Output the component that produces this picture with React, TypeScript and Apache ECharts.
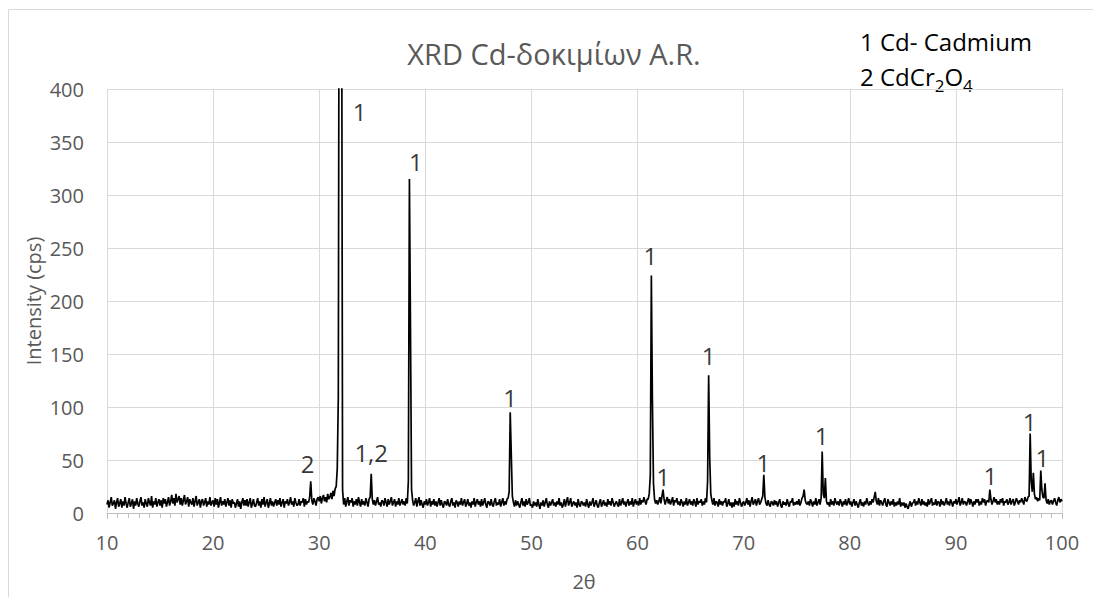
import React, { useEffect, useRef } from "react";
import * as echarts from "echarts";

// 2θ scan: start angle and constant step (degrees)
const START_ANGLE = 10;
const STEP_ANGLE = 0.1;

// Intensity (cps), one row per degree (10.0 … 99.9), then 100.0
const intensity: number[] = [
  8, 12, 5, 10, 15, 7, 9, 12, 4, 10,
  14, 6, 9, 13, 5, 11, 7, 15, 9, 5,
  10, 14, 6, 9, 13, 4, 11, 7, 14, 9,
  6, 11, 15, 7, 10, 5, 13, 9, 6, 14,
  10, 7, 16, 5, 11, 8, 14, 6, 10, 13,
  7, 12, 5, 14, 9, 13, 6, 10, 15, 7,
  11, 17, 9, 14, 7, 18, 10, 13, 16, 8,
  14, 7, 12, 17, 8, 11, 15, 6, 13, 10,
  8, 14, 6, 11, 16, 7, 10, 13, 5, 11,
  13, 7, 10, 14, 6, 11, 8, 15, 7, 10,
  12, 6, 14, 8, 13, 5, 10, 15, 7, 11,
  8, 13, 6, 10, 14, 7, 12, 5, 13, 9,
  10, 5, 9, 13, 6, 11, 4, 10, 14, 7,
  12, 7, 13, 6, 10, 14, 5, 9, 13, 7,
  6, 10, 14, 7, 11, 5, 13, 8, 15, 6,
  10, 13, 5, 9, 14, 7, 11, 6, 10, 13,
  7, 12, 8, 14, 6, 10, 13, 5, 11, 9,
  13, 7, 10, 15, 8, 11, 6, 14, 10, 7,
  8, 13, 7, 11, 10, 14, 6, 13, 8, 11,
  10, 15, 30, 12, 8, 14, 11, 7, 13, 15,
  11, 16, 9, 14, 17, 11, 15, 10, 18, 13,
  15, 19, 13, 21, 16, 23, 25, 42, 110, 700,
  900, 600, 22, 8, 14, 6, 11, 15, 7, 12,
  10, 14, 6, 11, 8, 13, 7, 15, 10, 6,
  13, 8, 11, 7, 14, 10, 6, 13, 15, 37,
  13, 8, 12, 7, 11, 15, 8, 10, 6, 12,
  11, 7, 14, 10, 6, 13, 8, 11, 15, 7,
  10, 13, 6, 11, 8, 14, 7, 10, 13, 8,
  11, 7, 14, 9, 30, 315, 175, 22, 12, 7,
  10, 14, 6, 11, 15, 7, 12, 8, 5, 11,
  8, 13, 7, 10, 14, 6, 11, 8, 13, 7,
  11, 6, 10, 14, 7, 12, 8, 5, 11, 10,
  7, 13, 8, 6, 11, 14, 7, 10, 5, 12,
  10, 6, 11, 8, 14, 7, 10, 13, 6, 9,
  13, 7, 10, 5, 11, 8, 14, 6, 10, 13,
  8, 11, 6, 13, 7, 10, 14, 8, 5, 11,
  10, 7, 13, 8, 6, 11, 14, 7, 10, 8,
  13, 6, 10, 14, 7, 11, 8, 13, 14, 20,
  95, 55, 16, 10, 6, 12, 7, 11, 8, 5,
  10, 14, 7, 11, 6, 13, 8, 10, 14, 7,
  8, 5, 11, 7, 10, 6, 13, 8, 4, 10,
  7, 12, 6, 10, 14, 8, 5, 11, 7, 10,
  13, 7, 10, 6, 11, 8, 14, 7, 10, 5,
  8, 13, 6, 11, 15, 7, 10, 14, 6, 9,
  11, 7, 10, 5, 13, 8, 6, 11, 10, 7,
  10, 6, 13, 8, 5, 11, 7, 10, 14, 6,
  9, 12, 7, 5, 10, 13, 6, 9, 12, 7,
  10, 6, 13, 8, 11, 7, 14, 10, 6, 9,
  11, 8, 6, 13, 7, 10, 14, 8, 11, 6,
  10, 13, 7, 11, 8, 14, 6, 10, 13, 8,
  11, 7, 14, 8, 12, 10, 15, 11, 8, 13,
  13, 18, 35, 224, 106, 28, 13, 9, 12, 8,
  11, 15, 9, 16, 22, 13, 8, 12, 15, 9,
  13, 8, 11, 15, 7, 12, 10, 14, 8, 11,
  7, 13, 10, 6, 11, 8, 14, 7, 10, 13,
  8, 11, 7, 13, 10, 6, 14, 8, 11, 10,
  13, 7, 11, 8, 14, 10, 30, 130, 52, 18,
  12, 8, 14, 7, 11, 10, 6, 13, 8, 11,
  7, 11, 10, 14, 6, 9, 13, 7, 10, 5,
  10, 6, 13, 8, 11, 7, 14, 10, 6, 9,
  11, 7, 10, 14, 8, 12, 6, 11, 15, 8,
  10, 13, 7, 11, 14, 8, 10, 13, 16, 36,
  15, 9, 7, 12, 8, 6, 11, 10, 7, 12,
  8, 11, 6, 10, 13, 7, 5, 11, 8, 10,
  7, 13, 9, 6, 11, 10, 14, 7, 10, 8,
  11, 8, 13, 7, 10, 14, 16, 22, 12, 9,
  8, 11, 7, 13, 10, 6, 11, 8, 14, 7,
  10, 13, 8, 14, 58, 18, 14, 33, 11, 8,
  10, 6, 13, 8, 11, 7, 14, 10, 8, 11,
  7, 13, 10, 6, 11, 8, 13, 7, 10, 14,
  8, 11, 6, 10, 13, 7, 11, 8, 5, 10,
  13, 7, 10, 6, 11, 8, 14, 10, 7, 11,
  8, 13, 10, 15, 20, 11, 8, 14, 7, 12,
  10, 7, 11, 14, 8, 6, 13, 10, 7, 11,
  8, 13, 6, 10, 7, 11, 8, 14, 6, 10,
  7, 10, 5, 9, 6, 4, 8, 11, 6, 9,
  10, 13, 7, 11, 8, 14, 10, 7, 13, 8,
  11, 7, 10, 6, 13, 8, 11, 14, 7, 10,
  8, 13, 7, 11, 10, 6, 13, 8, 11, 7,
  10, 14, 8, 11, 7, 13, 10, 6, 11, 9,
  13, 8, 11, 15, 7, 10, 14, 8, 11, 10,
  7, 11, 14, 8, 13, 10, 6, 11, 8, 13,
  10, 13, 7, 11, 8, 14, 10, 13, 7, 11,
  12, 10, 22, 13, 8, 11, 15, 10, 13, 8,
  11, 8, 13, 10, 14, 7, 11, 10, 13, 8,
  10, 14, 8, 11, 13, 7, 10, 14, 11, 8,
  12, 10, 14, 11, 8, 15, 12, 11, 15, 16,
  75, 30, 20, 38, 18, 13, 15, 11, 14, 12,
  40, 22, 15, 14, 28, 12, 9, 13, 8, 11,
  12, 8, 11, 14, 10, 7, 12, 15, 10, 13,
  11,
];

// Peak annotations
const peakLabelAngles = [28.9, 33.8, 34.9, 39.1, 48.0, 61.2, 62.4, 66.7, 71.85, 77.35, 93.25, 96.95, 98.15];
const peakLabelValues = [47, 379, 57, 332, 109, 243, 34, 149, 48, 73, 35, 86, 52];
const peakLabelTexts = ["2", "1", "1,2", "1", "1", "1", "1", "1", "1", "1", "1", "1", "1"];

const xTicks = { min: 10, max: 100, interval: 10 };
const yTicks = { min: 0, max: 400, interval: 50 };

const TITLE = "XRD Cd-δοκιμίων A.R.";
const X_NAME = "2θ";
const Y_NAME = "Intensity (cps)";
const LEGEND_1 = "1 Cd- Cadmium";

const FONT = "'Open Sans', 'Noto Sans', sans-serif";

export default function App() {
  const ref = useRef<HTMLDivElement>(null);

  useEffect(() => {
    if (!ref.current) return;
    const chart = echarts.init(ref.current, undefined, { renderer: "svg" });

    const lineData = intensity.map((v, i) => [
      Math.round((START_ANGLE + i * STEP_ANGLE) * 10) / 10,
      v,
    ]);
    const labelData = peakLabelAngles.map((a, i) => [a, peakLabelValues[i], peakLabelTexts[i]]);

    chart.setOption({
      animation: false,
      backgroundColor: "#ffffff",
      textStyle: { fontFamily: FONT },
      grid: { left: 107, right: 31, top: 89, bottom: 84, containLabel: false },
      xAxis: {
        type: "value",
        min: xTicks.min,
        max: xTicks.max,
        interval: xTicks.interval,
        axisLine: { show: true, lineStyle: { color: "#bfbfbf", width: 1 } },
        axisTick: { show: true, length: 6, lineStyle: { color: "#bfbfbf" } },
        minorTick: { show: true, splitNumber: 10, length: 5, lineStyle: { color: "#bfbfbf" } },
        splitLine: { show: true, lineStyle: { color: "#d9d9d9", width: 1 } },
        axisLabel: { fontSize: 20, color: "#595959", margin: 19, fontFamily: FONT },
      },
      yAxis: {
        type: "value",
        min: yTicks.min,
        max: yTicks.max,
        interval: yTicks.interval,
        axisLine: { show: false },
        axisTick: { show: false },
        splitLine: { show: true, lineStyle: { color: "#d9d9d9", width: 1 } },
        axisLabel: { fontSize: 20, color: "#595959", margin: 23, fontFamily: FONT },
      },
      series: [
        {
          type: "line",
          data: lineData,
          showSymbol: false,
          symbol: "none",
          clip: true,
          lineStyle: { color: "#000000", width: 1.7 },
          silent: true,
          z: 3,
        },
        {
          type: "scatter",
          data: labelData,
          symbolSize: 0,
          silent: true,
          z: 4,
          label: {
            show: true,
            position: "inside",
            formatter: (p: any) => p.data[2],
            fontSize: 24,
            color: "#000000",
            fontFamily: FONT,
          },
        },
      ],
      graphic: [
        {
          type: "rect",
          shape: { x: 8.5, y: 9.5, width: 1100, height: 600 },
          style: { fill: "none", stroke: "#d9d9d9", lineWidth: 1 },
          silent: true,
          z: -10,
        },
        {
          type: "text",
          x: 554,
          y: 53,
          style: {
            text: TITLE,
            fontSize: 29,
            fill: "#595959",
            fontFamily: FONT,
            align: "center",
            verticalAlign: "middle",
          },
        },
        {
          type: "text",
          x: 33,
          y: 301,
          rotation: Math.PI / 2,
          style: {
            text: Y_NAME,
            fontSize: 20,
            fill: "#595959",
            fontFamily: FONT,
            align: "center",
            verticalAlign: "middle",
          },
        },
        {
          type: "text",
          x: 584,
          y: 581,
          style: {
            text: X_NAME,
            fontSize: 20,
            fill: "#595959",
            fontFamily: FONT,
            align: "center",
            verticalAlign: "middle",
          },
        },
        {
          type: "text",
          x: 860,
          y: 41,
          style: {
            text: LEGEND_1,
            fontSize: 24,
            fill: "#000000",
            fontFamily: FONT,
            align: "left",
            verticalAlign: "middle",
          },
        },
        {
          type: "text",
          x: 860,
          y: 76,
          style: {
            text: "{m|2 CdCr}{s|2}{m|O}{s|4}",
            fontFamily: FONT,
            align: "left",
            verticalAlign: "middle",
            fill: "#000000",
            rich: {
              m: { fontSize: 24, lineHeight: 40, fontFamily: FONT, fill: "#000000", verticalAlign: "middle" },
              s: { fontSize: 17, lineHeight: 17, padding: [21, 0, 0, 0], fontFamily: FONT, fill: "#000000", verticalAlign: "top" },
            },
          },
        },
      ],
    });

    return () => chart.dispose();
  }, []);

  return (
    <div
      ref={ref}
      style={{ position: "absolute", left: 0, top: 0, width: 1093, height: 597 }}
    />
  );
}
